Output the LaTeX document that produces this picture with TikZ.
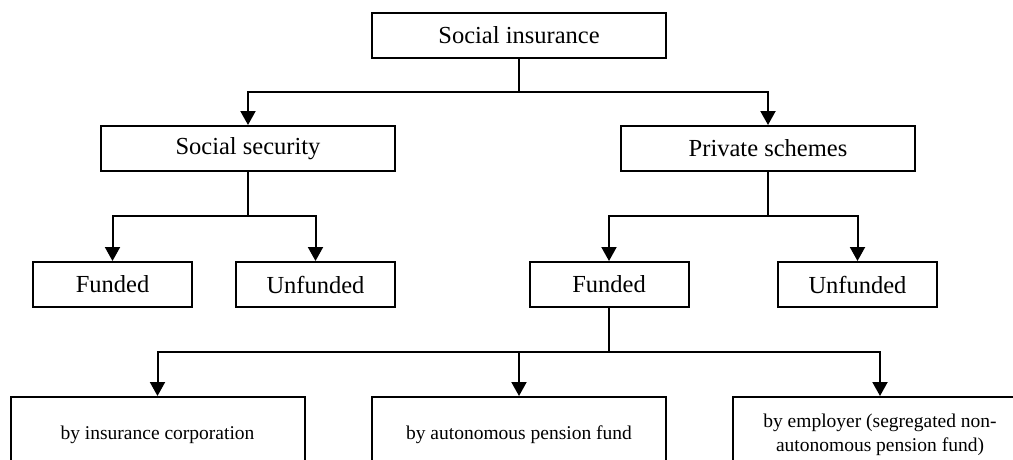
\documentclass[tikz,border=0pt]{standalone}
\usepackage{fontspec}
\setmainfont{Liberation Serif}
\usetikzlibrary{arrows.meta}
\tikzset{
  box/.style={draw, line width=2pt, fill=white, inner sep=0pt, align=center,
    font=\fontsize{24.5}{29}\selectfont},
  bigbox/.style={box, minimum width=294pt, minimum height=45pt},
  smallbox/.style={box, minimum width=159pt, minimum height=45pt},
  leafbox/.style={box, minimum width=294pt, minimum height=76pt,
    font=\fontsize{19.5}{24}\selectfont},
  link/.style={line width=2pt},
  arr/.style={link, -{Triangle[width=15pt,length=14pt]}}
}
\begin{document}
\begin{tikzpicture}[x=1pt,y=-1pt]
  \useasboundingbox (0,0) rectangle (1013,459);
  \clip (0,0) rectangle (1013,459);

  % tree nodes
  \node[bigbox]   (si) at (519,35.5)   {Social insurance};
  \node[bigbox]   (ss) at (248,148.5)  {Social security};
  \node[bigbox]   (ps) at (768,148.5)  {Private schemes};
  \node[smallbox] (f1) at (112.5,284.5) {Funded};
  \node[smallbox] (u1) at (315.5,284.5) {Unfunded};
  \node[smallbox] (f2) at (609,284.5)  {Funded};
  \node[smallbox] (u2) at (857.5,284.5) {Unfunded};
  \node[leafbox]  (b1) at (157.5,435)  {by insurance corporation};
  \node[leafbox]  (b2) at (519,435)    {by autonomous pension fund};
  \node[leafbox]  (b3) at (880,435)    {by employer (segregated non-\\autonomous pension fund)};

  % branch points
  \coordinate (j1) at (519,92);
  \coordinate (j2) at (248,216);
  \coordinate (j3) at (768,216);
  \coordinate (j4) at (609,352);

  % connectors
  \draw[link] (si.south) -- (j1);
  \draw[arr] (j1) -| (ss.north);
  \draw[arr] (j1) -| (ps.north);

  \draw[link] (ss.south) -- (j2);
  \draw[arr] (j2) -| (f1.north);
  \draw[arr] (j2) -| (u1.north);

  \draw[link] (ps.south) -- (j3);
  \draw[arr] (j3) -| (f2.north);
  \draw[arr] (j3) -| (u2.north);

  \draw[link] (f2.south) -- (j4);
  \draw[arr] (j4) -| (b1.north);
  \draw[arr] (j4) -| (b2.north);
  \draw[arr] (j4) -| (b3.north);
\end{tikzpicture}
\end{document}
